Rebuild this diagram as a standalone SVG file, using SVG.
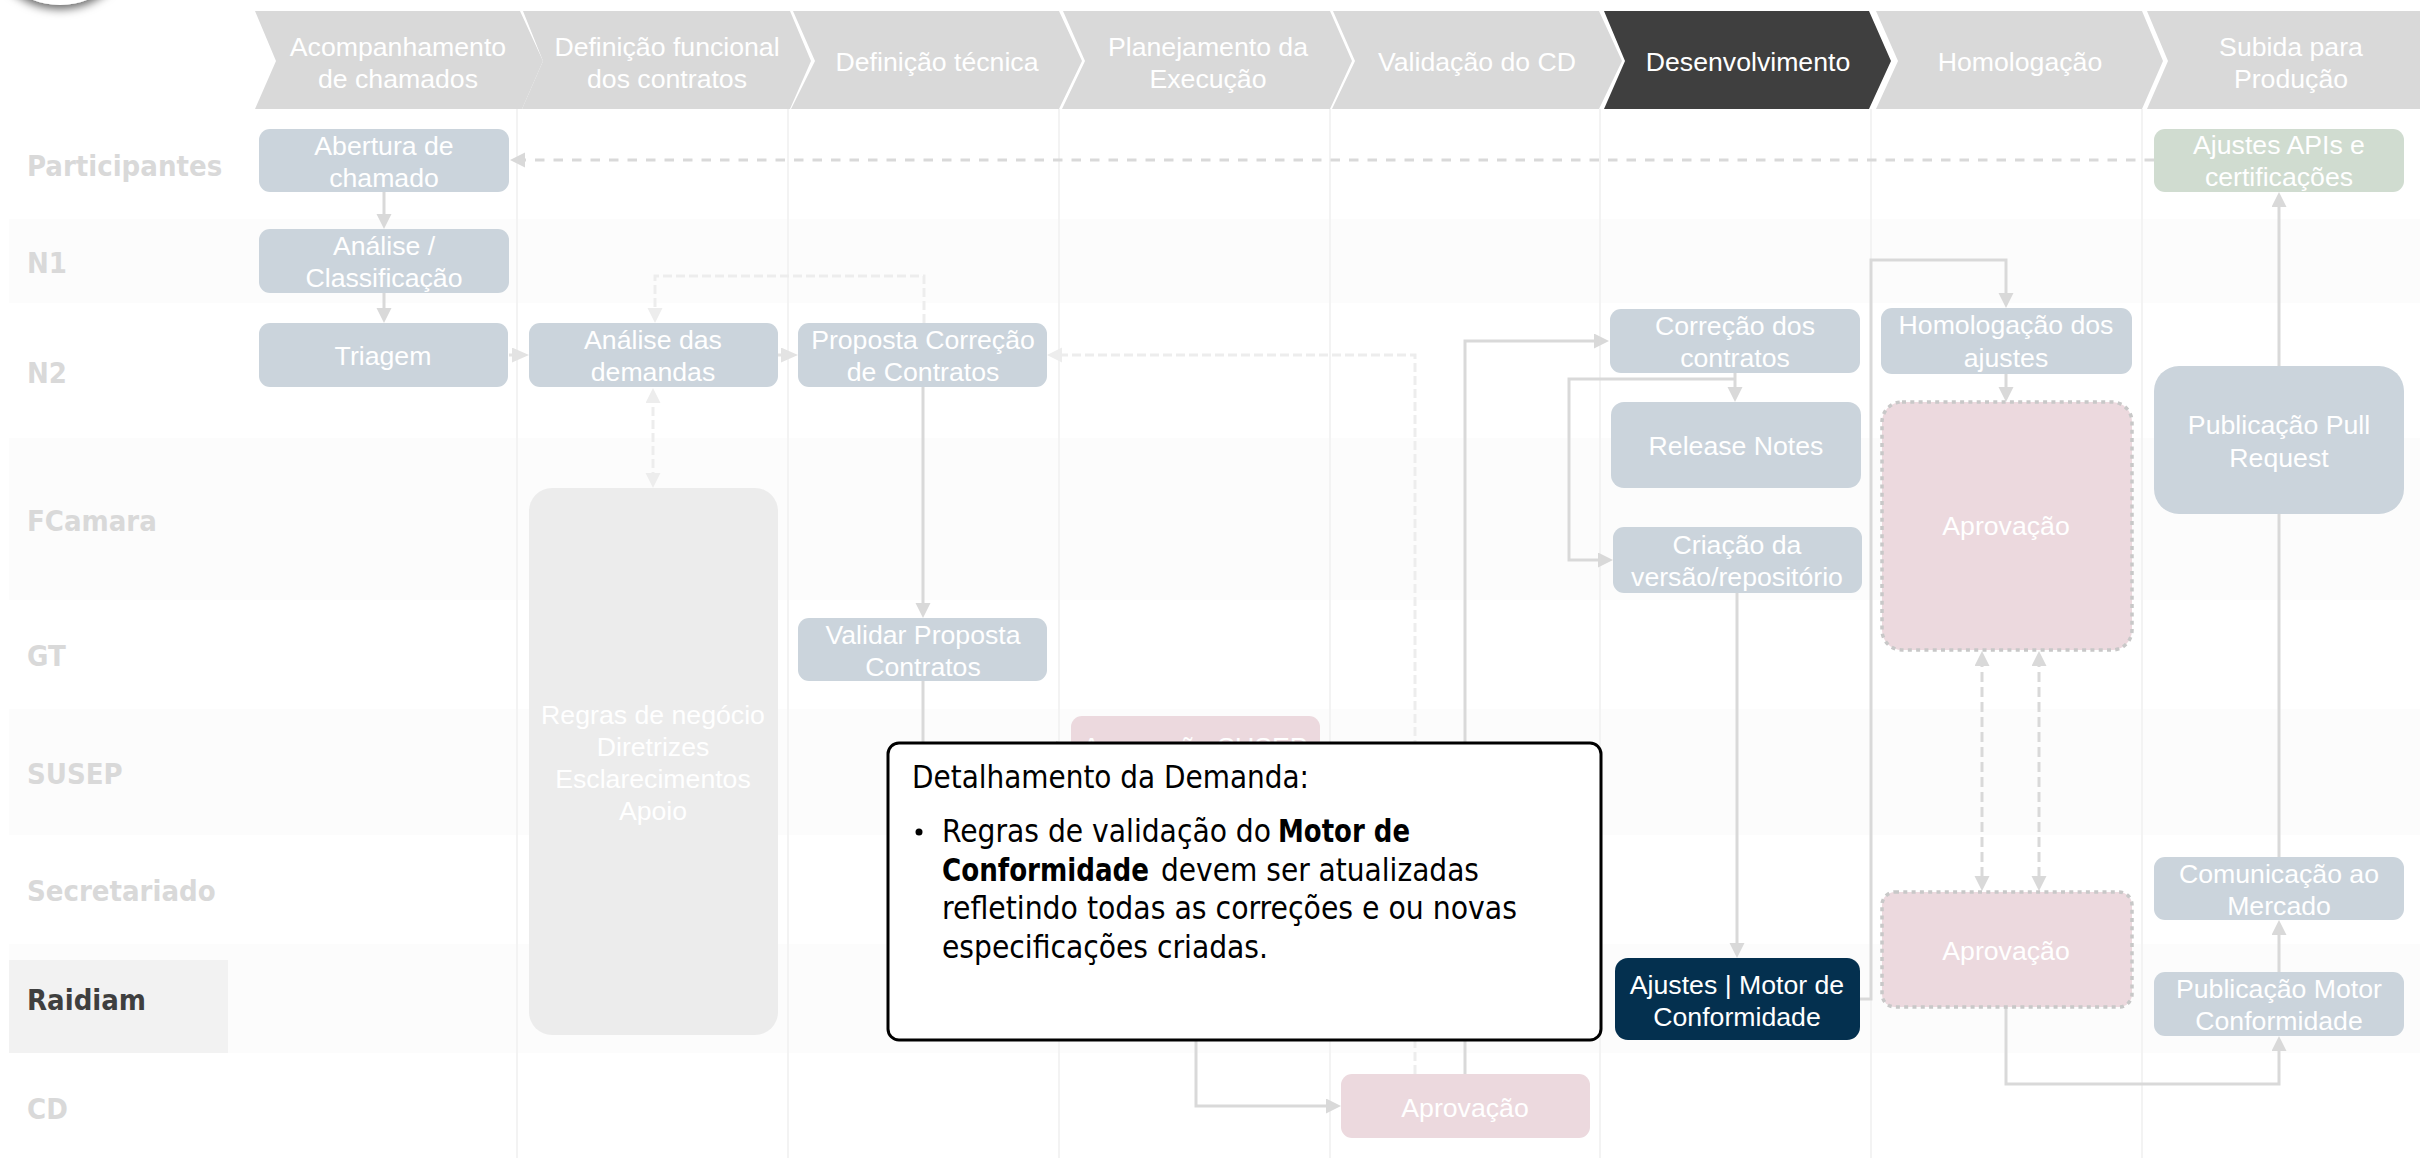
<svg xmlns="http://www.w3.org/2000/svg" width="2420" height="1158" viewBox="0 0 2420 1158">
<style>
.band{fill:#fcfcfc}
.col{stroke:#f3f3f3;stroke-width:2;fill:none}
.chev{fill:#d9d9d9}
.chevd{fill:#3f3f3f}
.ct{font:26.67px "Liberation Sans",Arial,sans-serif;fill:#fff;text-anchor:middle}
.rl{font:bold 29px "DejaVu Sans Condensed","DejaVu Sans",sans-serif;fill:#d9d9d9}
.n{fill:#cbd4dc}
.p{fill:#ecd9de}
.pd{fill:#ecd9de;stroke:#c8c8c8;stroke-width:3.5;stroke-dasharray:4 4.3}
.w{fill:none;stroke:#d9d9d9;stroke-width:3}
.l{fill:none;stroke:#ededed;stroke-width:3}
.d1{stroke-dasharray:9.5 9}
.d2{stroke-dasharray:9 4}
.d3{stroke-dasharray:10 5}
.dt{font:31.5px "DejaVu Sans Condensed","DejaVu Sans",sans-serif;fill:#000}
.b{font-weight:bold}
</style>
<defs>
<marker id="ag" markerUnits="userSpaceOnUse" markerWidth="16" markerHeight="16" refX="9" refY="7.5" orient="auto-start-reverse"><path d="M0 0L15 7.5L0 15Z" fill="#d9d9d9"/></marker>
<marker id="al" markerUnits="userSpaceOnUse" markerWidth="16" markerHeight="16" refX="9" refY="7.5" orient="auto-start-reverse"><path d="M0 0L15 7.5L0 15Z" fill="#ededed"/></marker>
<marker id="ad" markerUnits="userSpaceOnUse" markerWidth="18" markerHeight="16" refX="11" refY="7.5" orient="auto-start-reverse"><path d="M0 0L17 7.5L0 15Z" fill="#e3e3e3"/></marker>
<filter id="sh" x="-30%" y="-30%" width="160%" height="160%"><feDropShadow dx="0" dy="4" stdDeviation="5" flood-color="#000" flood-opacity="0.6"/></filter>
</defs>
<rect width="2420" height="1158" fill="#fff"/>
<g id="bands">
<rect class="band" x="9" y="219" width="2411" height="84"/>
<rect class="band" x="9" y="438" width="2411" height="162"/>
<rect class="band" x="9" y="709" width="2411" height="126"/>
<rect class="band" x="9" y="944" width="2411" height="109"/>
<rect x="9" y="960" width="219" height="93" fill="#f2f2f2"/>
</g>
<g id="columns">
<path class="col" d="M517 109V1158M788 109V1158M1059 109V1158M1330 109V1158M1600 109V1158M1871 109V1158M2142 109V1158"/>
</g>
<g id="logo"><circle cx="60" cy="-70" r="75" fill="#fff" filter="url(#sh)"/></g>
<g id="stages">
<g id="s1"><path class="chev" d="M255 11H520L543 61L522 109H255L276 61Z"/><text class="ct" x="398" y="56">Acompanhamento</text><text class="ct" x="398" y="88">de chamados</text></g>
<g id="s2"><path class="chev" d="M523 11H790L811 61L790 109H522L543 61Z"/><text class="ct" x="667" y="56">Definição funcional</text><text class="ct" x="667" y="88">dos contratos</text></g>
<g id="s3"><path class="chev" d="M793 11H1059L1082 61L1059 109H791L815 61Z"/><text class="ct" x="937" y="71">Definição técnica</text></g>
<g id="s4"><path class="chev" d="M1063 11H1330L1352 61L1330 109H1062L1085 61Z"/><text class="ct" x="1208" y="56">Planejamento da</text><text class="ct" x="1208" y="88">Execução</text></g>
<g id="s5"><path class="chev" d="M1333 11H1599L1622 61L1599 109H1332L1355 61Z"/><text class="ct" x="1477" y="71">Validação do CD</text></g>
<g id="s6"><path class="chevd" d="M1604 11H1869L1891 61L1869 109H1604L1625 61Z"/><text class="ct" x="1748" y="71">Desenvolvimento</text></g>
<g id="s7"><path class="chev" d="M1876 11H2142L2163 61L2142 109H1876L1898 61Z"/><text class="ct" x="2020" y="71">Homologação</text></g>
<g id="s8"><path class="chev" d="M2147 11H2420V109H2147L2168 61Z"/><text class="ct" x="2291" y="56">Subida para</text><text class="ct" x="2291" y="88">Produção</text></g>
</g>
<g id="row-labels">
<text class="rl" x="27" y="176">Participantes</text>
<text class="rl" x="27" y="273">N1</text>
<text class="rl" x="27" y="383">N2</text>
<text class="rl" x="27" y="531">FCamara</text>
<text class="rl" x="27" y="666">GT</text>
<text class="rl" x="27" y="784">SUSEP</text>
<text class="rl" x="27" y="901">Secretariado</text>
<text class="rl" x="27" y="1010" style="fill:#3f3f3f">Raidiam</text>
<text class="rl" x="27" y="1119">CD</text>
</g>
<g id="connectors">
<path class="w d1" d="M2154 160H516" marker-end="url(#ag)"/>
<path class="w" d="M384 192V223" marker-end="url(#ag)"/>
<path class="w" d="M384 293V317" marker-end="url(#ag)"/>
<path class="w" d="M509 355H523" marker-end="url(#ad)" style="stroke:#e3e3e3"/>
<path class="w" d="M778 355H792" marker-end="url(#ad)" style="stroke:#e3e3e3"/>
<path class="l d2" d="M924 323V276H655V317" marker-end="url(#al)"/>
<path class="l d2" d="M653 394V482" marker-start="url(#al)" marker-end="url(#al)"/>
<path class="w" d="M923 387V612" marker-end="url(#ag)"/>
<path class="w" d="M923 681V748H1065" marker-end="url(#ag)"/>
<path class="w" d="M1196 780V1106H1335" marker-end="url(#ag)"/>
<path class="l d2" d="M1415 1074V355H1053" marker-end="url(#al)"/>
<path class="w" d="M1465 1074V341H1603" marker-end="url(#ag)"/>
<path class="w" d="M1735 373V396" marker-end="url(#ag)"/>
<path class="w" d="M1735 379H1569V560H1607" marker-end="url(#ag)"/>
<path class="w" d="M1737 593V952" marker-end="url(#ag)"/>
<path class="w" d="M1860 999H1871V260H2006V302" marker-end="url(#ag)"/>
<path class="w" d="M2006 374V396" marker-end="url(#ag)"/>
<path class="w d3" d="M1982 657V885" marker-start="url(#ag)" marker-end="url(#ag)"/>
<path class="w d3" d="M2039 657V885" marker-start="url(#ag)" marker-end="url(#ag)"/>
<path class="w" d="M2006 1008V1084H2279V1042" marker-end="url(#ag)"/>
<path class="w" d="M2279 972V926" marker-end="url(#ag)"/>
<path class="w" d="M2279 857V514"/>
<path class="w" d="M2279 366V198" marker-end="url(#ag)"/>
</g>
<g id="n-abertura"><rect class="n" x="259" y="129" width="250" height="63" rx="11"/><text class="ct" x="384" y="155">Abertura de</text><text class="ct" x="384" y="187">chamado</text></g>
<g id="n-analise"><rect class="n" x="259" y="229" width="250" height="64" rx="11"/><text class="ct" x="384" y="255">Análise /</text><text class="ct" x="384" y="287">Classificação</text></g>
<g id="n-triagem"><rect class="n" x="259" y="323" width="249" height="64" rx="11"/><text class="ct" x="383" y="365">Triagem</text></g>
<g id="n-demandas"><rect class="n" x="529" y="323" width="249" height="64" rx="11"/><text class="ct" x="653" y="349">Análise das</text><text class="ct" x="653" y="381">demandas</text></g>
<g id="n-regras"><rect x="529" y="488" width="249" height="547" rx="23" fill="#ececec"/><text class="ct" x="653" y="724">Regras de negócio</text><text class="ct" x="653" y="756">Diretrizes</text><text class="ct" x="653" y="788">Esclarecimentos</text><text class="ct" x="653" y="820">Apoio</text></g>
<g id="n-proposta"><rect class="n" x="798" y="323" width="249" height="64" rx="11"/><text class="ct" x="923" y="349">Proposta Correção</text><text class="ct" x="923" y="381">de Contratos</text></g>
<g id="n-validar"><rect class="n" x="798" y="618" width="249" height="63" rx="11"/><text class="ct" x="923" y="644">Validar Proposta</text><text class="ct" x="923" y="676">Contratos</text></g>
<g id="n-susep"><rect class="p" x="1071" y="716" width="249" height="64" rx="11"/><text class="ct" x="1195" y="756">Aprovação SUSEP</text></g>
<g id="n-aprov-cd"><rect class="p" x="1341" y="1074" width="249" height="64" rx="11"/><text class="ct" x="1465" y="1117">Aprovação</text></g>
<g id="n-correcao"><rect class="n" x="1610" y="309" width="250" height="64" rx="11"/><text class="ct" x="1735" y="335">Correção dos</text><text class="ct" x="1735" y="367">contratos</text></g>
<g id="n-release"><rect class="n" x="1611" y="402" width="250" height="86" rx="13"/><text class="ct" x="1736" y="455">Release Notes</text></g>
<g id="n-criacao"><rect class="n" x="1613" y="527" width="249" height="66" rx="11"/><text class="ct" x="1737" y="554">Criação da</text><text class="ct" x="1737" y="586">versão/repositório</text></g>
<g id="n-ajustes-motor"><rect x="1615" y="958" width="245" height="82" rx="13" fill="#04304f"/><text class="ct" x="1737" y="994">Ajustes | Motor de</text><text class="ct" x="1737" y="1026">Conformidade</text></g>
<g id="n-homolog"><rect class="n" x="1881" y="308" width="251" height="66" rx="11"/><text class="ct" x="2006" y="334">Homologação dos</text><text class="ct" x="2006" y="367">ajustes</text></g>
<g id="n-aprov1"><rect class="pd" x="1882" y="402" width="250" height="248" rx="20"/><text class="ct" x="2006" y="535">Aprovação</text></g>
<g id="n-aprov2"><rect class="pd" x="1882" y="892" width="250" height="115" rx="13"/><text class="ct" x="2006" y="960">Aprovação</text></g>
<g id="n-apis"><rect x="2154" y="129" width="250" height="63" rx="11" fill="#d0dcd0"/><text class="ct" x="2279" y="154">Ajustes APIs e</text><text class="ct" x="2279" y="186">certificações</text></g>
<g id="n-pull"><rect class="n" x="2154" y="366" width="250" height="148" rx="25"/><text class="ct" x="2279" y="434">Publicação Pull</text><text class="ct" x="2279" y="467">Request</text></g>
<g id="n-comunic"><rect class="n" x="2154" y="857" width="250" height="63" rx="11"/><text class="ct" x="2279" y="883">Comunicação ao</text><text class="ct" x="2279" y="915">Mercado</text></g>
<g id="n-pubmotor"><rect class="n" x="2154" y="972" width="250" height="64" rx="11"/><text class="ct" x="2279" y="998">Publicação Motor</text><text class="ct" x="2279" y="1030">Conformidade</text></g>
<g id="callout">
<rect x="888" y="743" width="713" height="297" rx="11" fill="#fff" stroke="#000" stroke-width="3"/>
<text class="dt" x="912" y="788" textLength="397" lengthAdjust="spacingAndGlyphs">Detalhamento da Demanda:</text>
<circle cx="919" cy="832" r="3.5" fill="#000"/>
<text class="dt" x="942" y="842" textLength="329" lengthAdjust="spacingAndGlyphs">Regras de validação do</text>
<text class="dt b" x="1278" y="842" textLength="132" lengthAdjust="spacingAndGlyphs">Motor de</text>
<text class="dt b" x="942" y="881" textLength="207" lengthAdjust="spacingAndGlyphs">Conformidade</text>
<text class="dt" x="1161" y="881" textLength="318" lengthAdjust="spacingAndGlyphs">devem ser atualizadas</text>
<text class="dt" x="942" y="919" textLength="575" lengthAdjust="spacingAndGlyphs">refletindo todas as correções e ou novas</text>
<text class="dt" x="942" y="958" textLength="326" lengthAdjust="spacingAndGlyphs">especificações criadas.</text>
</g>
</svg>
